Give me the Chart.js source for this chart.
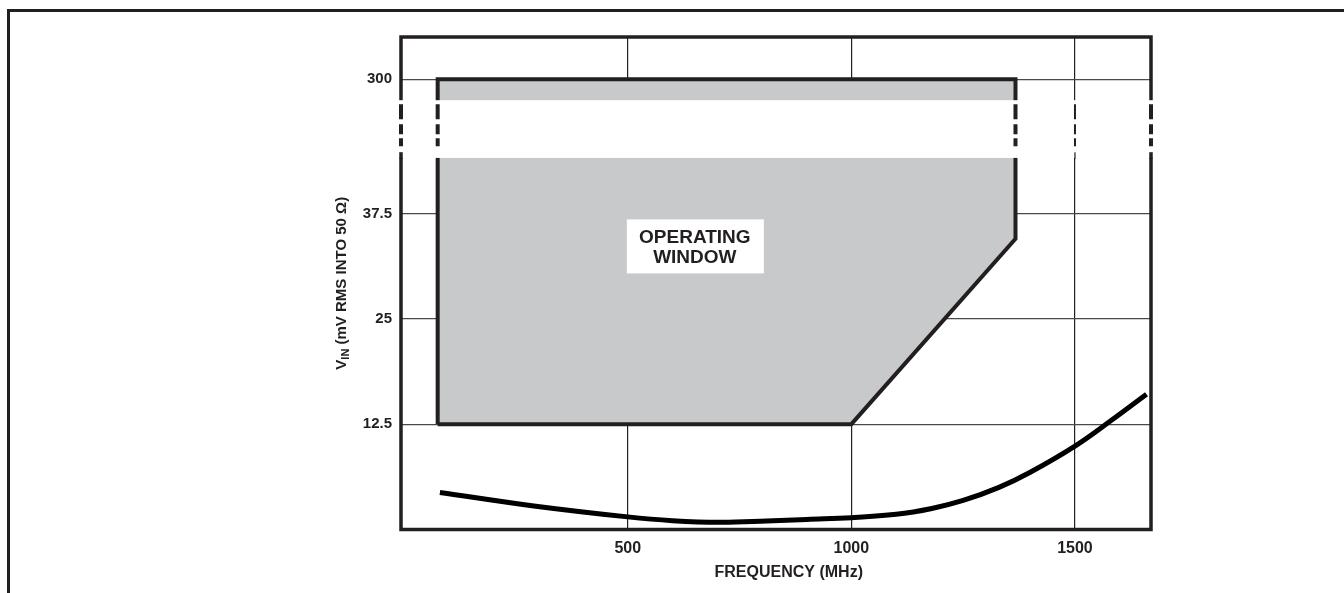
<!DOCTYPE html>
<html lang="en">

<head>
    <meta charset="UTF-8">
    <title>Operating Window</title>
    <script src="https://cdn.jsdelivr.net/npm/chart.js"></script>
    <style>
        body { margin: 0; background: #fff; }
        #wrap { position: relative; width: 1344px; height: 593px; }
        #frame { position: absolute; top: 9px; left: 7px; right: 0; bottom: 0; border-top: 3px solid #231f20; border-left: 3px solid #231f20; pointer-events: none; }
    </style>
</head>

<body>
    <div id="wrap">
        <canvas id="chart"></canvas>
        <div id="frame"></div>
    </div>

    <script>
        // axis ticks
        const xTicks = [500, 1000, 1500];
        const yTickLabels = ['12.5', '25', '37.5', '300'];
        const yTickMv = [12.5, 25, 37.5, 300];

        // operating window outline (MHz, mV)
        const windowFreq = [75, 1000, 1367, 1367, 75, 75];
        const windowMv = [12.5, 12.5, 34.5, 300, 300, 12.5];

        // minimum input curve (MHz, mV)
        const curveFreq = [80, 290, 500, 600, 706, 810, 900, 1000, 1100, 1180, 1250, 1330, 1400, 1500, 1580, 1660];
        const curveMv = [4.4, 2.8, 1.5, 1.05, 0.85, 1.0, 1.2, 1.4, 1.8, 2.5, 3.45, 5.0, 6.8, 9.9, 12.9, 16.05];

        // broken y axis: linear up to LOWER_TOP, 300 mV sits above the break
        const LOWER_TOP = 45;
        const UPPER_POS = 53.45;
        function axisY(mv) {
            return mv <= LOWER_TOP ? mv : UPPER_POS - (300 - mv) / 40;
        }

        const INK = '#231f20';
        const FONT = "'Liberation Sans', Arial, sans-serif";

        const windowPts = windowFreq.map((f, i) => ({ x: f, y: axisY(windowMv[i]) }));
        const curvePts = curveFreq.map((f, i) => ({ x: f, y: axisY(curveMv[i]) }));

        const decor = {
            id: 'decor',
            afterDatasetsDraw(chart) {
                const ctx = chart.ctx, a = chart.chartArea;
                const xs = chart.scales.x, ys = chart.scales.y;
                ctx.save();

                // plot frame
                ctx.strokeStyle = INK;
                ctx.lineWidth = 3.5;
                ctx.strokeRect(a.left, a.top, a.right - a.left, a.bottom - a.top);

                // axis break band
                const top = ys.getPixelForValue(50.95), bot = ys.getPixelForValue(44.1);
                ctx.fillStyle = '#fff';
                ctx.fillRect(a.left - 3, top, a.right - a.left + 6, bot - top);

                const breakLines = [
                    { x: a.left, w: 4, resume: true },
                    { x: xs.getPixelForValue(windowFreq[0]), w: 4, resume: false },
                    { x: xs.getPixelForValue(windowFreq[2]), w: 4, resume: false },
                    { x: xs.getPixelForValue(1500), w: 2, resume: true },
                    { x: a.right, w: 4, resume: true }
                ];
                breakLines.forEach(l => {
                    ctx.strokeStyle = INK;
                    ctx.lineWidth = l.w;
                    ctx.setLineDash([15, 5, 10, 4, 9, 100]);
                    ctx.beginPath();
                    ctx.moveTo(l.x, top + 4);
                    ctx.lineTo(l.x, top + 46);
                    ctx.stroke();
                    if (l.resume) {
                        ctx.setLineDash([]);
                        ctx.lineWidth = l.w === 2 ? 1.2 : 3.5;
                        ctx.beginPath();
                        ctx.moveTo(l.x, top + 52);
                        ctx.lineTo(l.x, bot + 1);
                        ctx.stroke();
                    }
                });
                ctx.setLineDash([]);

                // operating window label
                const cx = xs.getPixelForValue(650), cy = ys.getPixelForValue(33.6);
                ctx.fillStyle = '#fff';
                ctx.fillRect(cx - 68, cy - 27, 137, 54);
                ctx.fillStyle = INK;
                ctx.font = 'bold 19px ' + FONT;
                ctx.textAlign = 'center';
                ctx.textBaseline = 'middle';
                ctx.fillText('OPERATING', cx, cy - 9);
                ctx.fillText('WINDOW', cx, cy + 11);

                // x title
                ctx.font = 'bold 16px ' + FONT;
                ctx.fillText('FREQUENCY (MHz)', xs.getPixelForValue(860), 573);

                // y title with subscript
                ctx.translate(342, (a.top + a.bottom) / 2);
                ctx.rotate(-Math.PI / 2);
                const big = 'bold 15px ' + FONT, small = 'bold 11px ' + FONT;
                const rest = ' (mV RMS INTO 50 \u03A9)';
                ctx.font = big;
                const wV = ctx.measureText('V').width, wR = ctx.measureText(rest).width;
                ctx.font = small;
                const wI = ctx.measureText('IN').width;
                let px = -(wV + wI + wR) / 2;
                ctx.textAlign = 'left';
                ctx.font = big;
                ctx.fillText('V', px, 0);
                px += wV;
                ctx.font = small;
                ctx.fillText('IN', px, 4);
                px += wI;
                ctx.font = big;
                ctx.fillText(rest, px, 0);

                ctx.restore();
            }
        };

        new Chart(document.getElementById('chart'), {
            type: 'scatter',
            data: {
                datasets: [{
                    data: windowPts,
                    showLine: true,
                    fill: 'shape',
                    backgroundColor: '#c8c9cb',
                    borderColor: INK,
                    borderWidth: 4,
                    borderJoinStyle: 'miter',
                    tension: 0,
                    pointRadius: 0
                }, {
                    data: curvePts,
                    showLine: true,
                    fill: false,
                    borderColor: '#000',
                    borderWidth: 5,
                    tension: 0.4,
                    pointRadius: 0
                }]
            },
            options: {
                responsive: true,
                maintainAspectRatio: false,
                animation: false,
                layout: { padding: { top: 37, right: 193, left: 0, bottom: 0 } },
                plugins: { legend: { display: false }, tooltip: { enabled: false } },
                scales: {
                    x: {
                        type: 'linear',
                        min: -7,
                        max: 1670,
                        afterBuildTicks: s => { s.ticks = xTicks.map(v => ({ value: v })); },
                        afterFit: s => { s.height = 63.5; },
                        border: { display: false },
                        grid: { color: INK, lineWidth: 1.2, drawTicks: false },
                        ticks: {
                            color: INK,
                            font: { family: FONT, size: 16, weight: 'bold' },
                            padding: 9,
                            callback: v => String(v)
                        }
                    },
                    y: {
                        type: 'linear',
                        min: 0,
                        max: 58.45,
                        afterBuildTicks: s => { s.ticks = yTickMv.map(v => ({ value: axisY(v) })); },
                        afterFit: s => { s.width = 401; },
                        border: { display: false },
                        grid: { color: '#4a4a4a', lineWidth: 1.2, drawTicks: false },
                        ticks: {
                            color: INK,
                            font: { family: FONT, size: 15, weight: 'bold' },
                            padding: 9,
                            callback: (v, i) => yTickLabels[i]
                        }
                    }
                }
            },
            plugins: [decor]
        });
    </script>
</body>

</html>
